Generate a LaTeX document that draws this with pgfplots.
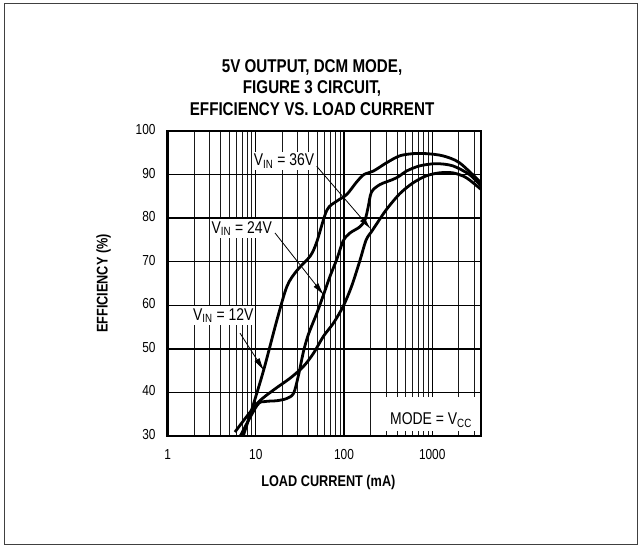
\documentclass[border=0pt]{standalone}
\usepackage{fontspec}
\setmainfont{Liberation Sans}[FakeStretch=0.82]
\usepackage{pgfplots}
\pgfplotsset{compat=1.18}
\usetikzlibrary{arrows.meta}
\begin{document}
\begin{tikzpicture}
\path[use as bounding box] (0,0) rectangle (641pt,548pt);
\begin{axis}[
  name=ax,
  at={(167.6pt,112pt)}, anchor=south west,
  scale only axis, width=313.4pt, height=305pt,
  xmode=log, xmin=1, xmax=3570, ymin=30, ymax=100,
  xtick={1,10,100,1000}, xticklabels={1,10,100,1000},
  minor xtick={2,3,4,5,6,7,8,9,20,30,40,50,60,70,80,90,200,300,400,500,600,700,800,900,2000,3000},
  ytick={30,40,50,60,70,80,90,100},
  xmajorgrids, xminorgrids, ymajorgrids,
  major grid style={black, line width=1.3pt},
  minor grid style={black!90, line width=0.9pt},
  axis line style={line width=2.4pt},
  tick align=inside, major tick length=0pt, minor tick length=0pt,
  ticklabel style={font=\fontsize{14.5}{16}\selectfont},
  /pgf/number format/assume math mode=true,
  yticklabel style={xshift=-8.5pt, yshift=1.5pt},
  xticklabel style={yshift=-10pt},
  xlabel={LOAD CURRENT (mA)}, ylabel={EFFICIENCY (\%)},
  label style={font=\bfseries\fontsize{15.5}{17}\selectfont},
  xlabel style={at={(axis description cs:0.513,-0.151)}, anchor=center},
  ylabel style={at={(axis description cs:-0.204,0.5)}, anchor=center},
  title={5V OUTPUT, DCM MODE,\\FIGURE 3 CIRCUIT,\\EFFICIENCY VS. LOAD CURRENT},
  title style={at={(axis description cs:0.461,1.123)}, anchor=center, align=center, font=\bfseries\fontsize{18.5}{21.5}\selectfont},
]
% VIN = 12V
\addplot[black, line width=2.8pt, smooth, line join=round] coordinates {
(6.5,27.2) (7.2,30) (9.2,36.7) (12.3,45.2) (17.4,56.7) (22.6,64.4) (29.3,68.0) (41.4,71.3) (49,74.5) (63.8,81.8) (82.6,83.9) (107,85.4) (139,88.3) (168,90.0) (215,90.8) (303,92.7) (428,94.3) (606,94.8) (858,94.8) (1320,94.3) (2040,92.7) (3570,88.1)};
% VIN = 24V
\addplot[black, line width=2.8pt, smooth, line join=round] coordinates {
(6.4,29.3) (10.3,37.0) (12.7,37.9) (17.3,38.1) (22.4,38.6) (26.8,39.8) (30.5,44.0) (34.8,49.5) (39.6,53.4) (49.2,58.2) (58.5,62.4) (69.5,66.7) (82.6,70.5) (98,74.8) (117,76.6) (151,78.0) (173,79.6) (188,82.6) (205,86.0) (255,87.7) (360,88.9) (428,89.7) (509,90.8) (720,92.0) (1110,92.5) (1710,92.0) (2640,90.0) (3570,87.4)};
% VIN = 36V
\addplot[black, line width=2.8pt, smooth, line join=round] coordinates {
(5.8,30.9) (10.4,37.5) (16.0,40.6) (24.6,43.3) (34.8,46.0) (45.1,49.0) (58.5,52.9) (75.8,55.9) (98,59.8) (122,64.4) (151,70.2) (178,75.0) (205,76.9) (240,79.0) (303,82.0) (428,85.6) (606,88.1) (855,89.7) (1210,90.4) (1710,90.4) (2420,89.3) (3570,86.6)};
% arrows
\addplot[black, line width=0.8pt, -{Latex[length=13pt,width=6pt]}] coordinates {(49,91.9) (201,77.5)};
\addplot[black, line width=0.8pt, -{Latex[length=13pt,width=6pt]}] coordinates {(16.5,76.6) (59.3,62.3)};
\addplot[black, line width=0.8pt, -{Latex[length=13pt,width=6pt]}] coordinates {(6.62,53.6) (12.4,45.0)};
\node[fill=white, inner sep=2pt, font=\fontsize{17}{19}\selectfont] at (axis cs:20.9,93.1) {V\textsubscript{IN} = 36V};
\node[fill=white, inner sep=2pt, font=\fontsize{17}{19}\selectfont] at (axis cs:6.92,77.6) {V\textsubscript{IN} = 24V};
\node[fill=white, inner sep=2pt, font=\fontsize{17}{19}\selectfont] at (axis cs:4.28,57.65) {V\textsubscript{IN} = 12V};
\fill[white] (axis cs:224,31.2) rectangle (axis cs:3396,38.95);
\node[inner sep=0pt, font=\fontsize{17}{19}\selectfont] at (axis cs:968,33.6) {MODE = V\textsubscript{CC}};
\node[anchor=base east, inner sep=0pt, font=\fontsize{11}{12}\selectfont] at (axis description cs:1.003,1.013) {figure5};
\end{axis}
\draw[black, line width=2.8pt] (167.6pt,112pt) rectangle (481pt,417pt);
\draw[black!75, line width=1.5pt] (4.5pt,3.5pt) rectangle (637.5pt,544.5pt);
\end{tikzpicture}
\end{document}
